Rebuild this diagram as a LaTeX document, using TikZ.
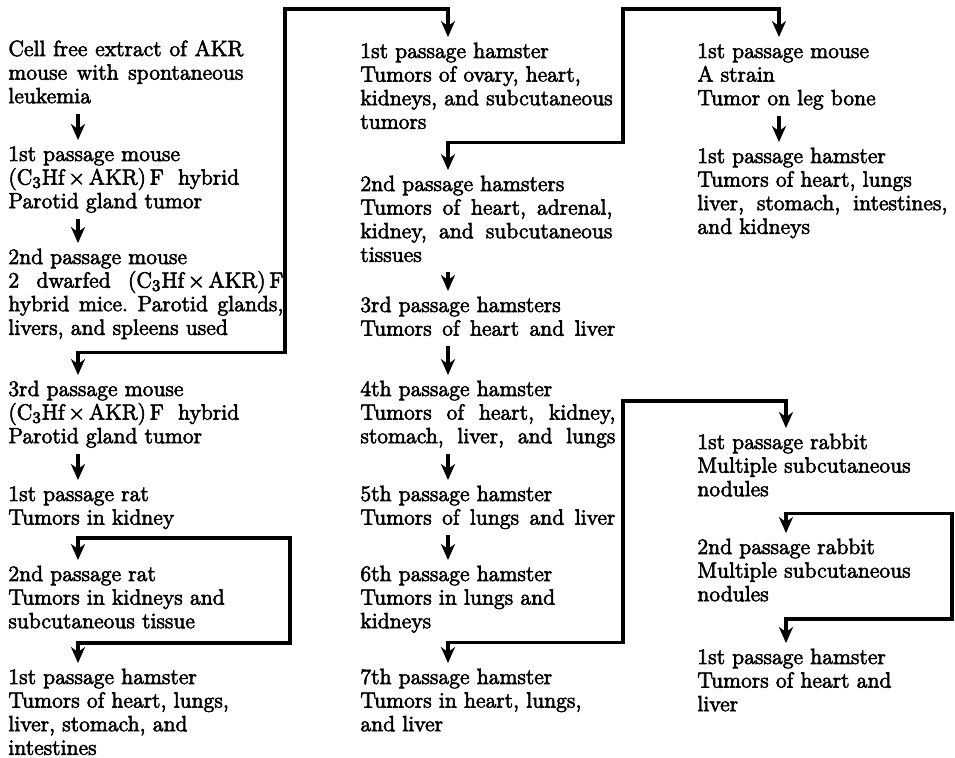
\documentclass[tikz,border=0pt]{standalone}
\usetikzlibrary{calc,arrows.meta}
\newcommand{\lns}[1]{\begin{tabular}[t]{@{}l@{}}#1\end{tabular}}
\newcommand{\jw}[2]{\makebox[#1][s]{#2}}
\newcommand{\cxa}{(C$_3$Hf\,$\times$\,AKR)\,F}
\begin{document}
\begin{tikzpicture}[x=0.5pt,y=-0.5pt,
  txt/.style={anchor=base west, inner sep=0pt, font=\fontsize{11}{11.8}\selectfont\frenchspacing\special{pdf:literal direct 2 Tr 0.3 w}},
  conn/.style={line width=1.6pt, line join=miter},
  arr/.style={conn, -{Stealth[length=8pt,width=7pt,inset=2.5pt]}},
  arrb/.style={conn, {Stealth[length=8pt,width=7pt,inset=2.5pt]}-{Stealth[length=8pt,width=7pt,inset=2.5pt]}}]
\useasboundingbox (0,0) rectangle (955,758);
% column arrow x positions
\coordinate (ca) at (78,0);
\coordinate (cb) at (448,0);
\coordinate (cc) at (779,0);
\coordinate (cd) at (786,0);
% lane corners
\coordinate (lA) at (285,9);
\coordinate (lB) at (623,9);
\coordinate (lC) at (290,643);
\coordinate (lD) at (623,401);
\coordinate (lE) at (952,619);
% column 1
\node[txt] (A) at (8,56) {\lns{\jw{117.5pt}{Cell free extract of AKR}\\ \jw{117.5pt}{mouse with spontaneous}\\ leukemia}};
\node[txt] (B) at (8,161) {\lns{1st passage mouse\\ \cxa\ \ hybrid\\ Parotid gland tumor}};
\node[txt] (C) at (8,264) {\lns{2nd passage mouse\\ \jw{137.5pt}{2\ \ dwarfed\ \ \cxa}\\ \jw{137.5pt}{hybrid mice. Parotid glands,}\\ livers, and spleens used}};
\node[txt] (D) at (8,396) {\lns{3rd passage mouse\\ \cxa\ \ hybrid\\ Parotid gland tumor}};
\node[txt] (E) at (8,501) {\lns{1st passage rat\\ Tumors in kidney}};
\node[txt] (F) at (8,581) {\lns{2nd passage rat\\ Tumors in kidneys and\\ subcutaneous tissue}};
\node[txt] (G) at (8,684) {\lns{1st passage hamster\\ Tumors of heart, lungs,\\ liver, stomach, and\\ intestines}};
% column 2
\node[txt] (H) at (360,58) {\lns{1st passage hamster\\ Tumors of ovary, heart,\\ kidneys, and subcutaneous\\ tumors}};
\node[txt] (I) at (360,191) {\lns{2nd passage hamsters\\ \jw{126pt}{Tumors of heart, adrenal,}\\ \jw{126pt}{kidney, and subcutaneous}\\ tissues}};
\node[txt] (J) at (360,312) {\lns{3rd passage hamsters\\ \jw{127.5pt}{Tumors of heart and liver}}};
\node[txt] (K) at (360,396) {\lns{4th passage hamster\\ \jw{127.5pt}{Tumors of heart, kidney,}\\ \jw{127.5pt}{stomach, liver, and lungs}}};
\node[txt] (L) at (360,501) {\lns{5th passage hamster\\ \jw{127.5pt}{Tumors of lungs and liver}}};
\node[txt] (M) at (360,581) {\lns{6th passage hamster\\ Tumors in lungs and\\ kidneys}};
\node[txt] (N) at (360,684) {\lns{7th passage hamster\\ Tumors in heart, lungs,\\ and liver}};
% column 3
\node[txt] (P) at (697,58) {\lns{1st passage mouse\\ A strain\\ Tumor on leg bone}};
\node[txt] (Q) at (697,163) {\lns{1st passage hamster\\ Tumors of heart, lungs\\ \jw{125pt}{liver, stomach, intestines,}\\ and kidneys}};
\node[txt] (R) at (697,449) {\lns{1st passage rabbit\\ Multiple subcutaneous\\ nodules}};
\node[txt] (S) at (697,554) {\lns{2nd passage rabbit\\ Multiple subcutaneous\\ nodules}};
\node[txt] (T) at (697,664) {\lns{1st passage hamster\\ Tumors of heart and\\ liver}};
% straight arrows
\draw[arr] ($(A.south -| ca)+(0,3)$) -- ($(B.north -| ca)+(0,-4)$);
\draw[arr] ($(B.south -| ca)+(0,3)$) -- ($(C.north -| ca)+(0,-4)$);
\draw[arr] ($(D.south -| ca)+(0,3)$) -- ($(E.north -| ca)+(0,-4)$);
\draw[arr] ($(I.south -| cb)+(0,3)$) -- ($(J.north -| cb)+(0,-4)$);
\draw[arr] ($(J.south -| cb)+(0,3)$) -- ($(K.north -| cb)+(0,-4)$);
\draw[arr] ($(K.south -| cb)+(0,3)$) -- ($(L.north -| cb)+(0,-4)$);
\draw[arr] ($(L.south -| cb)+(0,3)$) -- ($(M.north -| cb)+(0,-4)$);
\draw[arr] ($(P.south -| cc)+(0,3)$) -- ($(Q.north -| cc)+(0,-4)$);
% branching connectors
\coordinate (jC) at ($(C.south -| ca)+(0,10)$);
\draw[arrb] ($(D.north -| ca)+(0,-4)$) -- (jC) -| (lA) -| ($(H.north -| cb)+(0,-4)$);
\coordinate (jH) at ($(H.south -| cb)+(0,6)$);
\draw[arrb] ($(I.north -| cb)+(0,-4)$) -- (jH) -| (lB) -| ($(P.north -| cc)+(0,-4)$);
\coordinate (jE) at ($(E.south -| ca)+(0,6)$);
\draw[arrb] ($(F.north -| ca)+(0,-4)$) -- (jE) -| (lC) -| ($(G.north -| ca)+(0,-4)$);
\coordinate (jM) at ($(M.south -| cb)+(0,7)$);
\draw[arrb] ($(N.north -| cb)+(0,-4)$) -- (jM) -| (lD) -| ($(R.north -| cd)+(0,-4)$);
\coordinate (jR) at ($(R.south -| cd)+(0,10)$);
\draw[arrb] ($(S.north -| cd)+(0,-4)$) -- (jR) -| (lE) -| ($(T.north -| cd)+(0,-4)$);
\end{tikzpicture}
\end{document}
